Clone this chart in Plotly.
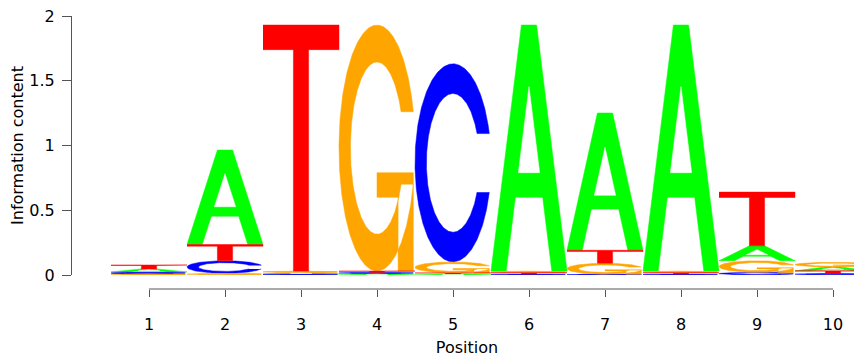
import numpy as np
import plotly.graph_objects as go

# ---- data (information content in bits per letter at each position) ----
positions = [1, 2, 3, 4, 5, 6, 7, 8, 9, 10]
A_bits = [0.023, 0.730, 0.010, 0.010, 0.008, 1.900, 1.060, 1.900, 0.115, 0.030]
C_bits = [0.018, 0.097, 0.008, 0.010, 1.530, 0.008, 0.006, 0.008, 0.020, 0.012]
G_bits = [0.006, 0.013, 0.012, 1.900, 0.085, 0.012, 0.085, 0.012, 0.090, 0.036]
T_bits = [0.030, 0.125, 1.900, 0.010, 0.008, 0.010, 0.100, 0.010, 0.415, 0.020]
y_tickvals = [0, 0.5, 1, 1.5, 2]
y_ticktext = ["0", "0.5", "1", "1.5", "2"]
x_ticktext = [str(p) for p in positions]

colors = {"A": "#00FF00", "C": "#0000FF", "G": "#FFA500", "T": "#FF0000"}


# ---- glyph outlines in a unit box ----
def glyph_A():
    x = np.array([0, 4, 6, 10, 8, 6.8, 3.2, 2, 0]) / 10
    y = np.array([0, 10, 10, 0, 0, 3, 3, 0, 0]) / 10
    hx = np.array([3.6, 5, 6.4, 3.6]) / 10
    hy = np.array([4, 7.5, 4, 4]) / 10
    return [(x, y)], [(hx, hy)]


def ring():
    a1 = np.linspace(0.3 + np.pi / 2, np.pi, 100)
    a2 = np.linspace(np.pi, 1.5 * np.pi, 100)
    xl = np.concatenate([0.5 + 0.5 * np.sin(a1), 0.5 + 0.5 * np.sin(a2)])
    yl1 = 0.5 + 0.5 * np.cos(a1)
    yl = np.concatenate([yl1, 0.5 + 0.5 * np.cos(a2)])
    x = np.concatenate([xl, xl[::-1]])
    y = np.concatenate([yl, 1 - yl[::-1]])
    xi1 = 0.5 + 0.35 * np.sin(a1)
    yi1 = 0.5 + 0.35 * np.cos(a1)
    m = yi1 <= yl1.max()
    xi1 = xi1[m]
    yi1 = yi1[m].copy()
    yi1[0] = yl1.max()
    xi = np.concatenate([xi1, 0.5 + 0.35 * np.sin(a2)])
    yi = np.concatenate([yi1, 0.5 + 0.35 * np.cos(a2)])
    x1 = np.concatenate([xi, xi[::-1]])
    y1 = np.concatenate([yi, 1 - yi[::-1]])
    X = np.concatenate([x, x1[::-1]])
    Y = np.concatenate([y, y1[::-1]])
    r1 = (0.5 + 0.5 * np.sin(a1)).max()
    return X, Y, r1


def glyph_C():
    X, Y, _ = ring()
    return [(X, Y)], []


def glyph_G():
    X, Y, r1 = ring()
    h1 = 0.4
    xa = np.array([r1, 0.5, 0.5, r1 - 0.2, r1 - 0.2, r1, r1])
    ya = np.array([h1, h1, h1 - 0.1, h1 - 0.1, 0, 0, h1])
    return [(X, Y), (xa, ya)], []


def glyph_T():
    x = np.array([0, 10, 10, 6, 6, 4, 4, 0]) / 10
    y = np.array([10, 10, 9, 9, 0, 0, 9, 9]) / 10
    return [(x, y)], []


glyphs = {"A": glyph_A(), "C": glyph_C(), "G": glyph_G(), "T": glyph_T()}
bits = {"A": A_bits, "C": C_bits, "G": G_bits, "T": T_bits}

polys = {k: ([], []) for k in "ACGT"}
holes = ([], [])
for i, p in enumerate(positions):
    col = [(k, bits[k][i]) for k in "ACGT"]
    col.sort(key=lambda t: t[1])
    base = 0.0
    for k, h in col:
        shapes, hls = glyphs[k]
        for gx, gy in shapes:
            polys[k][0].extend(list(p - 0.5 + gx) + [None])
            polys[k][1].extend(list(base + gy * h) + [None])
        for gx, gy in hls:
            holes[0].extend(list(p - 0.5 + gx) + [None])
            holes[1].extend(list(base + gy * h) + [None])
        base += h

fig = go.Figure()
for k in "ACGT":
    fig.add_trace(go.Scatter(
        x=polys[k][0], y=polys[k][1], mode="lines", fill="toself",
        fillcolor=colors[k], line=dict(color=colors[k], width=0.5),
        hoverinfo="skip", showlegend=False, name=k))
fig.add_trace(go.Scatter(
    x=holes[0], y=holes[1], mode="lines", fill="toself",
    fillcolor="white", line=dict(color="white", width=0.5),
    hoverinfo="skip", showlegend=False))

axis_col = "#555555"
font = dict(family="DejaVu Sans", size=16, color="#000000")

fig.update_layout(
    width=854, height=349,
    margin=dict(l=64, r=0, t=8, b=68),
    plot_bgcolor="white", paper_bgcolor="white",
    font=font,
    xaxis=dict(
        range=[0.5 - 39 / 76, 0.5 + 751 / 76],
        anchor="free", position=0,
        tickmode="array", tickvals=positions, ticktext=x_ticktext,
        ticks="outside", ticklen=7, tickcolor=axis_col, tickwidth=1,
        showline=False, showgrid=False, zeroline=False,
        ticklabelstandoff=14, ticklabeloverflow="allow",
        title=dict(text="Position", standoff=12, font=font),
        automargin=False,
    ),
    yaxis=dict(
        range=[0, 2], domain=[14 / 273, 1],
        tickmode="array", tickvals=y_tickvals, ticktext=y_ticktext,
        ticks="outside", ticklen=9, tickcolor=axis_col, tickwidth=1,
        showline=True, linecolor=axis_col, linewidth=1,
        showgrid=False, zeroline=False,
        ticklabelstandoff=4, ticklabeloverflow="allow",
        title=dict(text="Information content", standoff=1, font=font),
        automargin=False,
    ),
    shapes=[dict(type="line", xref="x", yref="paper",
                 x0=positions[0], x1=positions[-1], y0=0, y1=0,
                 line=dict(color=axis_col, width=1))],
)

fig.write_html("out.html")
